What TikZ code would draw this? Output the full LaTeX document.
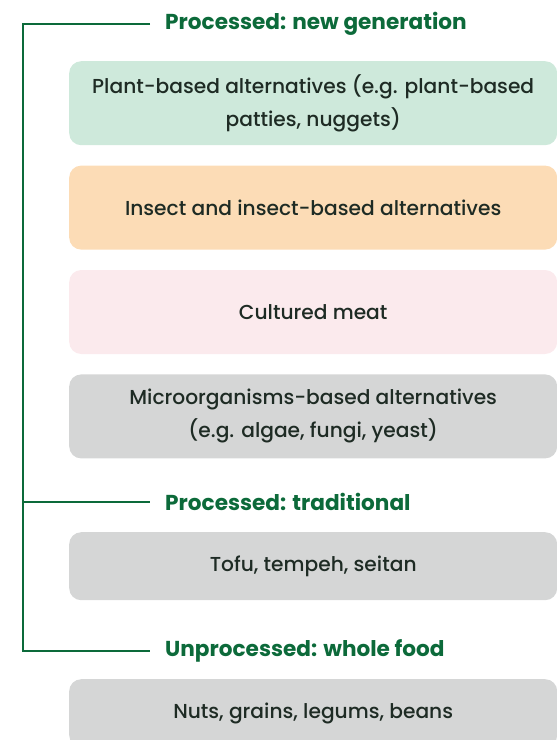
\documentclass[tikz,border=0pt]{standalone}
\usepackage{fontspec}
\setmainfont{Poppins}[UprightFont={* Medium}, BoldFont={* Bold}]
\usepackage{tikz}
\usetikzlibrary{positioning}
\definecolor{headgreen}{RGB}{12, 106, 58}
\definecolor{plantgreen}{RGB}{206, 233, 219}
\definecolor{insectorange}{RGB}{252, 220, 182}
\definecolor{meatpink}{RGB}{251, 234, 237}
\definecolor{altgray}{RGB}{213, 214, 214}
\definecolor{textdark}{RGB}{30, 43, 36}

\begin{document}
\begin{tikzpicture}[
  x=1pt, y=-1pt,
  node distance = 20pt and 0pt,
  item/.style = {rectangle, rounded corners=12pt, draw=none, text=textdark,
                 minimum width=488pt, minimum height=84pt, align=center,
                 font=\fontsize{20.2}{33}\selectfont},
  head/.style = {anchor=west, inner xsep=15pt, inner ysep=0pt, text=headgreen,
                 font=\fontsize{21.6}{24}\selectfont\bfseries},
  branch/.style = {line width=2.2pt, color=headgreen}
]
\useasboundingbox (0,0) rectangle (557,740);
\clip (0,0) rectangle (557,740);

\coordinate (spine) at (23,0);
\node[head] (newgen) at (150,24) {Processed: new generation};
\node[item, fill=plantgreen, anchor=north west] (plant) at (69,61)
  {Plant-based alternatives (e.g. plant-based\\patties, nuggets)};
\node[item, fill=insectorange, below=of plant] (insect) {Insect and insect-based alternatives};
\node[item, fill=meatpink, below=of insect] (cultured) {Cultured meat};
\node[item, fill=altgray, below=of cultured] (micro)
  {Microorganisms-based alternatives\\(e.g. algae, fungi, yeast)};
\node[head] (trad) at (150,502) {Processed: traditional};
\node[item, fill=altgray, minimum height=68pt, anchor=north west] (tofu) at (69,532)
  {Tofu, tempeh, seitan};
\node[head] (whole) at (150,651) {Unprocessed: whole food};
\node[item, fill=altgray, minimum height=68pt, anchor=north west] (nuts) at (69,679)
  {Nuts, grains, legums, beans};

\draw[branch] (newgen.west) -- (newgen.west -| spine) -- (whole.west -| spine) -- (whole.west);
\draw[branch] (trad.west -| spine) -- (trad.west);

\end{tikzpicture}
\end{document}
